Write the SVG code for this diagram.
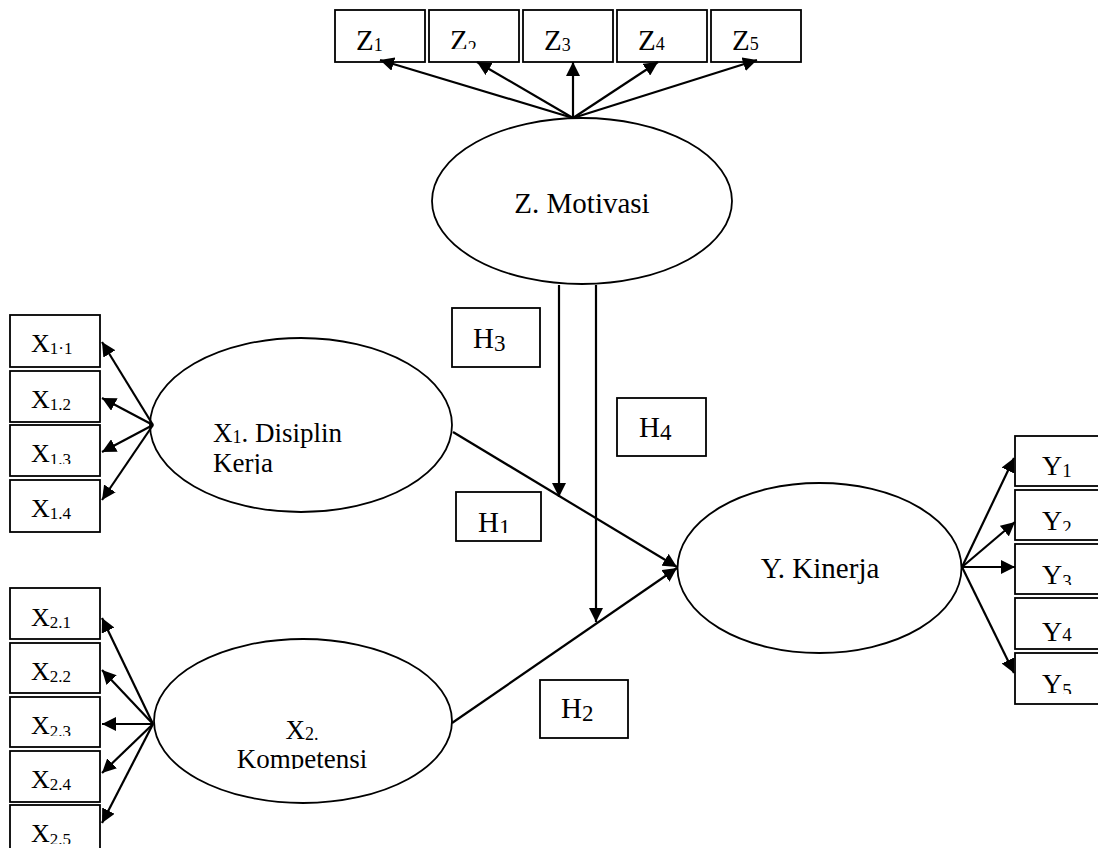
<svg xmlns="http://www.w3.org/2000/svg" width="1098" height="848" viewBox="0 0 1098 848">
<style>
.box{fill:#fff;stroke:#000;stroke-width:1.8}
.ell{fill:#fff;stroke:#000;stroke-width:1.8}
.arr{fill:none;stroke:#000;stroke-width:2.2;marker-end:url(#ah)}
text{font-family:"Liberation Serif","Times New Roman",serif;fill:#000}
.lg{font-size:29px}
.md{font-size:27px}
.zl{font-size:29px}
.xl{font-size:26px}
.yl{font-size:28px}
.hl{font-size:29px}
</style>
<defs>
<marker id="ah" markerUnits="userSpaceOnUse" markerWidth="14" markerHeight="14" refX="14" refY="7" orient="auto">
<path d="M0,0 L14,7 L0,14 z" fill="#000"/>
</marker>
<clipPath id="cZ2"><rect x="429" y="10" width="90" height="39"/></clipPath>
<clipPath id="cX13"><rect x="10" y="425" width="90" height="39"/></clipPath>
<clipPath id="cX23"><rect x="10" y="697" width="90" height="39"/></clipPath>
<clipPath id="cX25"><rect x="10" y="805" width="90" height="39"/></clipPath>
<clipPath id="cY2"><rect x="1015" y="490" width="90" height="41"/></clipPath>
<clipPath id="cY3"><rect x="1015" y="544" width="90" height="41"/></clipPath>
<clipPath id="cY5"><rect x="1015" y="653" width="90" height="41"/></clipPath>
<clipPath id="cH1"><rect x="456" y="492" width="85" height="41"/></clipPath>
<clipPath id="cX1"><rect x="160" y="390" width="280" height="84"/></clipPath>
<clipPath id="cX2"><rect x="160" y="700" width="280" height="69"/></clipPath>
</defs>

<g id="node-Z1"><rect class="box" x="335" y="10" width="90" height="52"/><text class="zl" x="356" y="50">Z<tspan font-size="18" dy="1">1</tspan></text></g>
<g id="node-Z2"><rect class="box" x="429" y="10" width="90" height="52"/><g clip-path="url(#cZ2)"><text class="zl" x="450" y="50">Z<tspan font-size="18" dy="4">2</tspan></text></g></g>
<g id="node-Z3"><rect class="box" x="523" y="10" width="90" height="52"/><text class="zl" x="544" y="50">Z<tspan font-size="18" dy="1">3</tspan></text></g>
<g id="node-Z4"><rect class="box" x="617" y="10" width="90" height="52"/><text class="zl" x="638" y="50">Z<tspan font-size="18" dy="0">4</tspan></text></g>
<g id="node-Z5"><rect class="box" x="711" y="10" width="90" height="52"/><text class="zl" x="732" y="50">Z<tspan font-size="18" dy="0">5</tspan></text></g>

<g id="node-Z"><ellipse class="ell" cx="582" cy="201" rx="150" ry="83"/><text class="lg" x="582" y="213" text-anchor="middle">Z. Motivasi</text></g>

<g id="node-X11"><rect class="box" x="10" y="315" width="90" height="52"/><text class="xl" x="31" y="352">X<tspan font-size="17" dy="2">1·1</tspan></text></g>
<g id="node-X12"><rect class="box" x="10" y="371" width="90" height="51"/><text class="xl" x="31" y="408">X<tspan font-size="17" dy="2">1.2</tspan></text></g>
<g id="node-X13"><rect class="box" x="10" y="425" width="90" height="51"/><g clip-path="url(#cX13)"><text class="xl" x="31" y="462">X<tspan font-size="17" dy="3">1.3</tspan></text></g></g>
<g id="node-X14"><rect class="box" x="10" y="480" width="90" height="52"/><text class="xl" x="31" y="517">X<tspan font-size="17" dy="2">1.4</tspan></text></g>

<g id="node-X1"><ellipse class="ell" cx="301" cy="425" rx="151" ry="87"/><g clip-path="url(#cX1)"><text class="md" x="213" y="442">X<tspan font-size="18" dy="1">1</tspan><tspan dy="-1">. Disiplin</tspan></text><text class="md" x="213" y="472">Kerja</text></g></g>

<g id="node-X21"><rect class="box" x="10" y="588" width="90" height="51"/><text class="xl" x="31" y="626">X<tspan font-size="17" dy="2">2.1</tspan></text></g>
<g id="node-X22"><rect class="box" x="10" y="643" width="90" height="50"/><text class="xl" x="31" y="680">X<tspan font-size="17" dy="2">2.2</tspan></text></g>
<g id="node-X23"><rect class="box" x="10" y="697" width="90" height="50"/><g clip-path="url(#cX23)"><text class="xl" x="31" y="734">X<tspan font-size="17" dy="3">2.3</tspan></text></g></g>
<g id="node-X24"><rect class="box" x="10" y="751" width="90" height="51"/><text class="xl" x="31" y="788">X<tspan font-size="17" dy="2">2.4</tspan></text></g>
<g id="node-X25"><rect class="box" x="10" y="805" width="90" height="52"/><g clip-path="url(#cX25)"><text class="xl" x="31" y="842">X<tspan font-size="17" dy="3">2.5</tspan></text></g></g>

<g id="node-X2"><ellipse class="ell" cx="303" cy="721" rx="149" ry="82"/><g clip-path="url(#cX2)"><text class="md" x="302" y="739" text-anchor="middle">X<tspan font-size="18" dy="1">2.</tspan></text><text class="md" x="302" y="768" text-anchor="middle">Kompetensi</text></g></g>

<g id="node-Y"><ellipse class="ell" cx="819.5" cy="568" rx="142" ry="85"/><text class="lg" x="820" y="578" text-anchor="middle">Y. Kinerja</text></g>

<g id="node-Y1"><rect class="box" x="1015" y="436" width="95" height="50"/><text class="yl" x="1042" y="475">Y<tspan font-size="19" dy="2">1</tspan></text></g>
<g id="node-Y2"><rect class="box" x="1015" y="490" width="95" height="50"/><g clip-path="url(#cY2)"><text class="yl" x="1042" y="530">Y<tspan font-size="19" dy="4">2</tspan></text></g></g>
<g id="node-Y3"><rect class="box" x="1015" y="544" width="95" height="50"/><g clip-path="url(#cY3)"><text class="yl" x="1042" y="584">Y<tspan font-size="19" dy="4">3</tspan></text></g></g>
<g id="node-Y4"><rect class="box" x="1015" y="598" width="95" height="51"/><text class="yl" x="1042" y="641">Y<tspan font-size="19" dy="0">4</tspan></text></g>
<g id="node-Y5"><rect class="box" x="1015" y="653" width="95" height="51"/><g clip-path="url(#cY5)"><text class="yl" x="1042" y="693">Y<tspan font-size="19" dy="4">5</tspan></text></g></g>

<g id="node-H3"><rect class="box" x="452" y="308" width="88" height="59"/><text class="hl" x="473" y="348">H<tspan font-size="23" dy="3">3</tspan></text></g>
<g id="node-H4"><rect class="box" x="617" y="398" width="89" height="58"/><text class="hl" x="639" y="437">H<tspan font-size="23" dy="3">4</tspan></text></g>
<g id="node-H1"><rect class="box" x="456" y="492" width="85" height="49"/><g clip-path="url(#cH1)"><text class="hl" x="478" y="532">H<tspan font-size="23" dy="3">1</tspan></text></g></g>
<g id="node-H2"><rect class="box" x="540" y="680" width="88" height="58"/><text class="hl" x="561" y="718">H<tspan font-size="23" dy="3">2</tspan></text></g>

<g id="connectors">
<line class="arr" x1="573" y1="118" x2="380" y2="60"/>
<line class="arr" x1="573" y1="118" x2="477" y2="62"/>
<line class="arr" x1="573" y1="118" x2="573" y2="62"/>
<line class="arr" x1="573" y1="118" x2="658" y2="62"/>
<line class="arr" x1="573" y1="118" x2="757" y2="60"/>

<line class="arr" x1="153" y1="425" x2="102" y2="342"/>
<line class="arr" x1="153" y1="425" x2="102" y2="398"/>
<line class="arr" x1="153" y1="425" x2="102" y2="452"/>
<line class="arr" x1="153" y1="425" x2="102" y2="500"/>

<line class="arr" x1="153" y1="724" x2="102" y2="618"/>
<line class="arr" x1="153" y1="724" x2="102" y2="670"/>
<line class="arr" x1="153" y1="724" x2="102" y2="724"/>
<line class="arr" x1="153" y1="724" x2="102" y2="773"/>
<line class="arr" x1="153" y1="724" x2="102" y2="823"/>

<line class="arr" x1="962" y1="567" x2="1014" y2="458"/>
<line class="arr" x1="962" y1="567" x2="1015" y2="522"/>
<line class="arr" x1="962" y1="567" x2="1015" y2="567"/>
<line class="arr" x1="962" y1="567" x2="1014" y2="673"/>

<line class="arr" x1="453" y1="432" x2="677" y2="567"/>
<line class="arr" x1="452" y1="723" x2="677" y2="568"/>
<line class="arr" x1="559" y1="285" x2="559" y2="497"/>
<line class="arr" x1="596" y1="285" x2="596" y2="622"/>
</g>
</svg>
